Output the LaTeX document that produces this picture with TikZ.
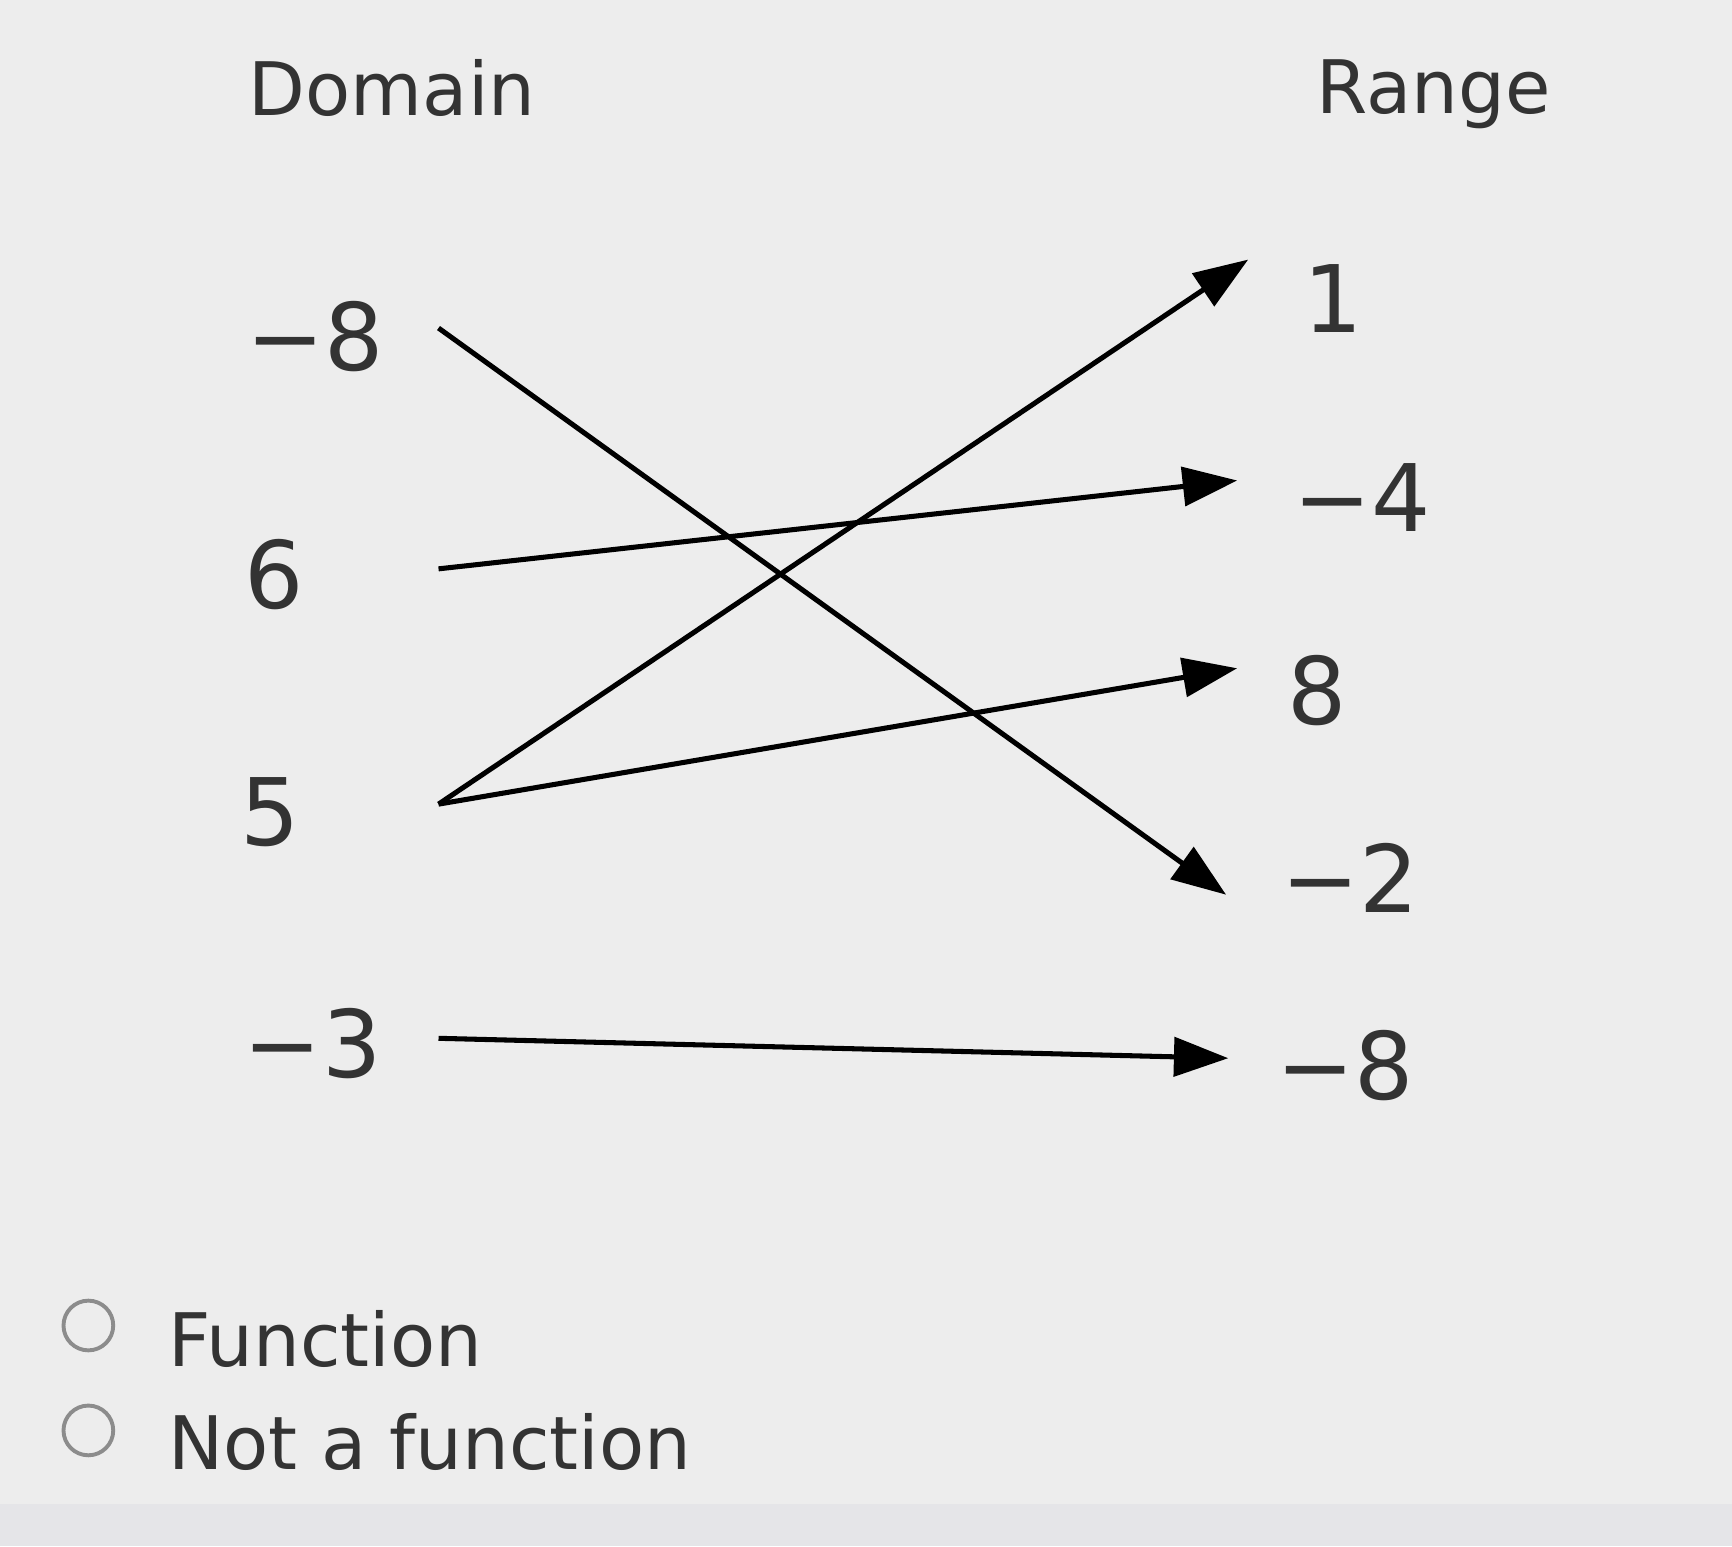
\documentclass[tikz,border=0pt]{standalone}
\usepackage{fontspec}
\setmainfont{DejaVu Sans}
\usetikzlibrary{arrows.meta}
\begin{document}
\begin{tikzpicture}[x=0.01cm,y=-0.01cm,
  lbl/.style={font=\fontsize{19}{23}\selectfont,text=black!80},
  num/.style={font=\fontsize{24}{28}\selectfont,text=black!80},
  arr/.style={line width=1.3pt,-{Triangle[length=14pt,width=10pt]}},
  radio/.style={circle,draw=black!45,line width=1pt,minimum size=0.45cm,inner sep=0pt}]
\fill[black!7] (0,0) rectangle (1568,1400);
\fill[blue!10!black!10] (0,1362) rectangle (1568,1400);
\node[lbl] (dom) at (355,80) {Domain};
\node[lbl] (ran) at (1298,85) {Range};
\node[num] (l1) at (285,305) {−8};
\node[num] (l2) at (248,520) {6};
\node[num] (l3) at (245,735) {5};
\node[num] (l4) at (283,945) {−3};
\node[num] (r1) at (1207,270) {1};
\node[num] (r2) at (1233,450) {−4};
\node[num] (r3) at (1192,625) {8};
\node[num] (r4) at (1222,795) {−2};
\node[num] (r5) at (1218,965) {−8};
\coordinate (a1) at (397,297);
\coordinate (a2) at (397,515);
\coordinate (a3) at (397,728);
\coordinate (a4) at (397,940);
\coordinate (b1) at (1130,235);
\coordinate (b2) at (1120,435);
\coordinate (b3) at (1120,605);
\coordinate (b4) at (1110,810);
\coordinate (b5) at (1112,958);
\draw[arr] (a1) -- (b4);
\draw[arr] (a2) -- (b2);
\draw[arr] (a3) -- (b1);
\draw[arr] (a3) -- (b3);
\draw[arr] (a4) -- (b5);
\node[radio] (c1) at (80,1200) {};
\node[radio] (c2) at (80,1295) {};
\node[lbl,anchor=west] (f1) at (140,1212) {Function};
\node[lbl,anchor=west] (f2) at (140,1305) {Not a function};
\end{tikzpicture}
\end{document}
